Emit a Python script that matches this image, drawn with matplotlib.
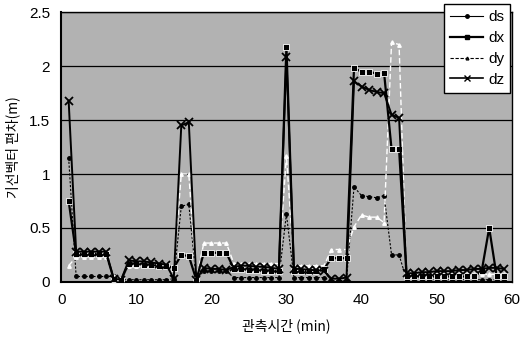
import matplotlib
matplotlib.use("Agg")
import numpy as np
import matplotlib.pyplot as plt
from matplotlib.lines import Line2D

plt.rcParams['font.family'] = ['Liberation Sans', 'Noto Sans CJK KR', 'DejaVu Sans']

# observation time (min)
minutes = list(range(1, 60))

ds = [1.15, 0.05, 0.05, 0.05, 0.05, 0.05, 0.05, 0.02, 0.02, 0.02,
      0.02, 0.02, 0.02, 0.02, 0.03, 0.70, 0.72, 0.02, 0.10, 0.10,
      0.10, 0.10, 0.04, 0.04, 0.04, 0.04, 0.04, 0.04, 0.04, 0.63,
      0.04, 0.04, 0.04, 0.04, 0.04, 0.01, 0.01, 0.01, 0.88, 0.80,
      0.79, 0.78, 0.80, 0.25, 0.25, 0.02, 0.02, 0.02, 0.02, 0.02,
      0.02, 0.02, 0.02, 0.02, 0.02, 0.02, 0.02, 0.02, 0.02]

dx = [0.75, 0.26, 0.26, 0.26, 0.26, 0.26, 0.03, 0.02, 0.17, 0.17,
      0.16, 0.16, 0.15, 0.15, 0.13, 0.25, 0.24, 0.02, 0.27, 0.27,
      0.27, 0.27, 0.12, 0.12, 0.11, 0.11, 0.10, 0.10, 0.10, 2.18,
      0.10, 0.10, 0.10, 0.10, 0.12, 0.22, 0.22, 0.22, 1.98, 1.95,
      1.95, 1.93, 1.94, 1.23, 1.23, 0.05, 0.05, 0.05, 0.05, 0.05,
      0.05, 0.05, 0.05, 0.05, 0.05, 0.10, 0.50, 0.05, 0.05]

dy = [0.15, 0.23, 0.23, 0.23, 0.23, 0.23, 0.05, 0.03, 0.15, 0.15,
      0.15, 0.15, 0.15, 0.15, 0.13, 1.00, 1.00, 0.03, 0.36, 0.36,
      0.36, 0.36, 0.17, 0.17, 0.17, 0.17, 0.17, 0.17, 0.17, 1.17,
      0.15, 0.15, 0.15, 0.15, 0.15, 0.30, 0.30, 0.30, 0.51, 0.62,
      0.60, 0.60, 0.55, 2.22, 2.20, 0.07, 0.07, 0.07, 0.07, 0.07,
      0.07, 0.07, 0.07, 0.07, 0.07, 0.07, 0.07, 0.07, 0.07]

dz = [1.68, 0.28, 0.28, 0.28, 0.28, 0.28, 0.03, 0.02, 0.20, 0.19,
      0.19, 0.18, 0.17, 0.16, 0.03, 1.45, 1.48, 0.02, 0.13, 0.12,
      0.12, 0.11, 0.14, 0.15, 0.15, 0.14, 0.14, 0.13, 0.12, 2.08,
      0.12, 0.12, 0.11, 0.11, 0.10, 0.03, 0.03, 0.04, 1.86, 1.81,
      1.78, 1.76, 1.75, 1.55, 1.52, 0.08, 0.08, 0.09, 0.09, 0.10,
      0.10, 0.10, 0.11, 0.11, 0.12, 0.12, 0.13, 0.13, 0.12]

fig = plt.figure(figsize=(5.27, 3.38), dpi=100)
ax = fig.add_axes([0.116, 0.166, 0.855, 0.798])
ax.set_facecolor('#b2b2b2')

ax.plot(minutes, ds, color='black', lw=0.8, ls=(0, (2, 1.5)), marker='o', ms=2.5, zorder=3)
ax.plot(minutes, dx, color='black', lw=1.6, marker='s', ms=4.5, mec='white', mew=0.6, zorder=4)
ax.plot(minutes, dy, color='white', lw=1.0, ls=(0, (4, 2)), marker='^', ms=2.5, zorder=3)
ax.plot(minutes, dz, color='black', lw=1.4, marker='x', ms=5.5, mew=1.3, zorder=4)

ax.set_xlim(0, 60)
ax.set_ylim(0, 2.5)
ax.set_xticks(range(0, 61, 10))
ax.set_yticks([0, 0.5, 1, 1.5, 2, 2.5])
ax.set_yticklabels(['0', '0.5', '1', '1.5', '2', '2.5'])
ax.yaxis.grid(True, color='black', lw=0.9)
ax.set_axisbelow(True)
ax.tick_params(length=0, labelsize=11, pad=8)
for s in ax.spines.values():
    s.set_color('black')
    s.set_linewidth(1.0)
ax.spines['left'].set_linewidth(1.5)
ax.spines['bottom'].set_linewidth(1.5)

ax.set_xlabel('관측시간 (min)', fontsize=10, labelpad=8, family='Noto Sans CJK KR')
ax.set_ylabel('기선벡터 편차(m)', fontsize=10, labelpad=6, family='Noto Sans CJK KR')

handles = [
    Line2D([], [], color='black', lw=0.8, marker='o', ms=2.5),
    Line2D([], [], color='black', lw=1.6, marker='s', ms=3.5),
    Line2D([], [], color='black', lw=0.8, ls=(0, (3, 1.5)), marker='^', ms=2, mfc='white'),
    Line2D([], [], color='black', lw=1.2, marker='x', ms=5),
]
leg = fig.legend(handles, ['ds', 'dx', 'dy', 'dz'], loc='upper right',
                 bbox_to_anchor=(0.968, 0.988), fontsize=11, frameon=True,
                 fancybox=False, edgecolor='black', framealpha=1,
                 handlelength=2.2, handletextpad=0.3, borderpad=0.4,
                 labelspacing=0.45, borderaxespad=0)
leg.get_frame().set_linewidth(1.0)

fig.savefig('out.png', dpi=100)
